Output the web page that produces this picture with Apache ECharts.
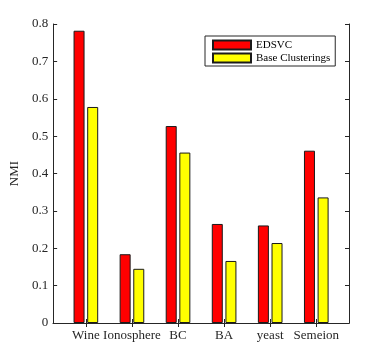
<!DOCTYPE html>
<html>
<head>
<meta charset="utf-8">
<script src="https://cdn.jsdelivr.net/npm/echarts@6/dist/echarts.min.js"></script>
<style>
  html, body { margin: 0; padding: 0; background: #fff; }
  #chart { width: 373px; height: 353px; }
</style>
</head>
<body>
<div id="chart"></div>
<script>
// datasets on the x axis
const categories = ['Wine', 'Ionosphere', 'BC', 'BA', 'yeast', 'Semeion']
// NMI values
const edsvcValues = [0.782, 0.184, 0.527, 0.265, 0.261, 0.461]
const baseValues = [0.578, 0.145, 0.456, 0.166, 0.214, 0.336]
const yTicks = [0, 0.1, 0.2, 0.3, 0.4, 0.5, 0.6, 0.7, 0.8]

const positions = categories.map((c, i) => i + 1)
const font = 'Liberation Serif'
const axisColor = '#262626'

const chart = echarts.init(document.getElementById('chart'))

const xBase = {
  type: 'value',
  min: 0.29,
  max: 6.71,
  splitLine: { show: false },
  axisLine: { show: true, lineStyle: { color: axisColor, width: 1 } },
  axisTick: { show: true, inside: true, length: 4, customValues: positions, lineStyle: { color: axisColor } }
}
const yBase = {
  type: 'value',
  min: 0,
  max: 0.8,
  interval: 0.1,
  splitLine: { show: false },
  axisLine: { show: true, lineStyle: { color: axisColor, width: 1 } },
  axisTick: { show: true, inside: true, length: 4, lineStyle: { color: axisColor } }
}

const option = {
  animation: false,
  grid: { left: 49, right: 24, top: 24, bottom: 30, containLabel: false },
  legend: {
    orient: 'vertical',
    left: 205,
    top: 36,
    padding: [3, 5, 2, 7],
    itemWidth: 38,
    itemHeight: 9,
    itemGap: 1,
    icon: 'rect',
    borderColor: axisColor,
    borderWidth: 1,
    backgroundColor: '#fff',
    textStyle: { fontFamily: font, fontSize: 11, lineHeight: 12, color: '#000' },
    data: ['EDSVC', 'Base Clusterings']
  },
  xAxis: [
    Object.assign({}, xBase, {
      position: 'bottom',
      axisLabel: {
        show: true,
        customValues: positions,
        formatter: v => categories[Math.round(v) - 1] || '',
        fontFamily: font,
        fontSize: 13,
        color: axisColor,
        margin: 6
      }
    }),
    Object.assign({}, xBase, { position: 'top', axisLabel: { show: false } })
  ],
  yAxis: [
    Object.assign({}, yBase, {
      position: 'left',
      name: 'NMI',
      nameLocation: 'middle',
      nameGap: 26,
      nameTextStyle: { fontFamily: font, fontSize: 13, color: axisColor },
      axisLabel: {
        customValues: yTicks,
        formatter: v => String(Math.round(v * 10) / 10),
        fontFamily: font,
        fontSize: 13,
        color: axisColor,
        margin: 5
      }
    }),
    Object.assign({}, yBase, { position: 'right', axisLabel: { show: false } })
  ],
  series: [
    {
      name: 'EDSVC',
      type: 'bar',
      barWidth: 11,
      barGap: '24%',
      itemStyle: { color: '#ff0000', borderColor: '#1a1a1a', borderWidth: 1 },
      data: positions.map((x, i) => [x, edsvcValues[i]])
    },
    {
      name: 'Base Clusterings',
      type: 'bar',
      barWidth: 11,
      barGap: '24%',
      itemStyle: { color: '#ffff00', borderColor: '#1a1a1a', borderWidth: 1 },
      data: positions.map((x, i) => [x, baseValues[i]])
    }
  ]
}

chart.setOption(option)
</script>
</body>
</html>
